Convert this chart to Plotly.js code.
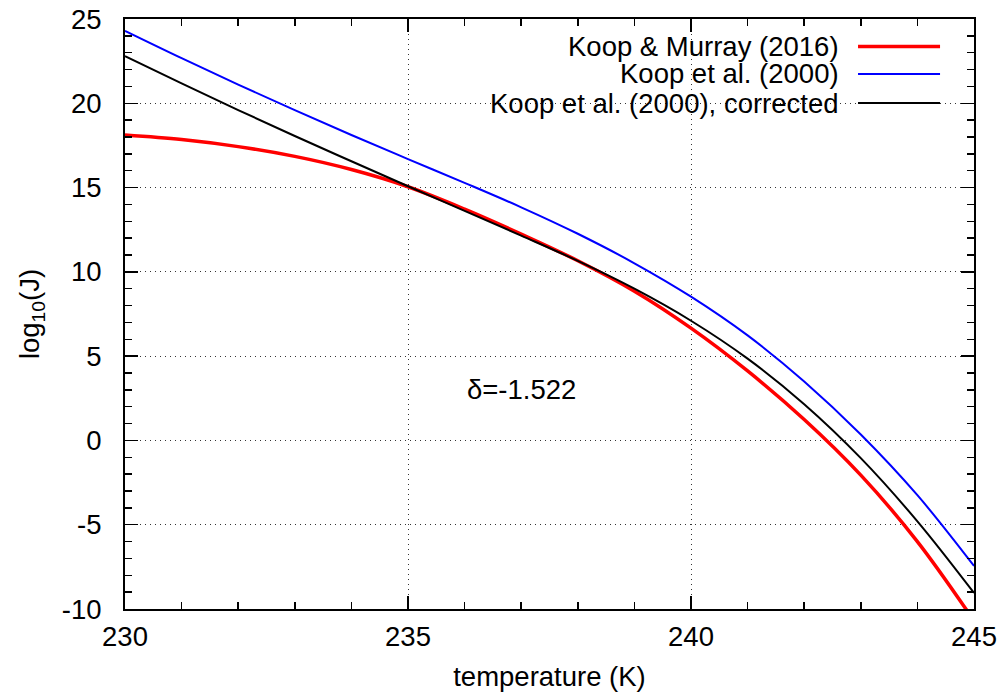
<!DOCTYPE html>
<html><head><meta charset="utf-8">
<script src="https://cdn.plot.ly/plotly-3.0.1.min.js"></script>
<style>html,body{margin:0;padding:0;background:#fff}</style>
</head><body>
<div id="chart" style="width:1005px;height:696px"></div>
<script>
// Data
const temperature = [230,231,232,233,234,235,236,237,238,239,240,241,242,243,244,245];
const koopMurray2016 = [18.12,17.85,17.43,16.85,16.07,15.05,13.72,12.24,10.66,8.85,6.66,4.12,1.24,-2.06,-6.0,-10.7];
const koop2000 = [24.3,22.68,21.11,19.59,18.12,16.69,15.28,13.83,12.26,10.51,8.53,6.23,3.5,0.35,-3.25,-7.45];
const koop2000Corrected = [22.8,21.18,19.6,18.06,16.56,15.08,13.62,12.15,10.65,9.0,7.1,4.85,2.15,-1.05,-4.8,-9.05];
const seriesNames = ["Koop & Murray (2016)","Koop et al. (2000)","Koop et al. (2000), corrected"];
const seriesColors = ["#ff0000","#0000ff","#000000"];
const seriesWidths = [3.5,2,2];
const seriesValues = [koopMurray2016, koop2000, koop2000Corrected];
const xTickVals = [230,235,240,245];
const xTickText = ["230","235","240","245"];
const yTickVals = [-10,-5,0,5,10,15,20,25];
const yTickText = ["-10","-5","0","5","10","15","20","25"];
const labelText = "δ=-1.522";

const FONT = "Liberation Sans, Arial, Helvetica, sans-serif";
const FS = 27.5;

const traces = seriesValues.map((vals,i)=>({
  x: temperature, y: vals, type:'scatter', mode:'lines',
  name: seriesNames[i], showlegend:false,
  line:{color:seriesColors[i], width:seriesWidths[i], shape:'spline', smoothing:1},
  hoverinfo:'skip'
}));

// manual legend (text right-aligned, sample line on the right)
const legendRowsY = [0.9534, 0.9068, 0.8576];
const annotations = seriesNames.map((n,i)=>({
  xref:'paper', yref:'paper', x:0.8433, y:legendRowsY[i],
  xanchor:'right', yanchor:'middle', text:n, showarrow:false,
  font:{family:FONT,size:FS,color:'#000'}
}));
annotations.push({xref:'x', yref:'y', x:236, y:3, xanchor:'left', yanchor:'middle',
  text:labelText, showarrow:false, font:{family:FONT,size:FS,color:'#000'}});

const shapes = [
  {type:'rect', xref:'paper', yref:'paper', x0:0.2615, x1:0.975, y0:0.8288, y1:1.0,
   fillcolor:'#ffffff', line:{width:0}, layer:'between'}
];
seriesNames.forEach((n,i)=>{
  shapes.push({type:'line', xref:'paper', yref:'paper', x0:0.8634, x1:0.9600,
    y0:legendRowsY[i], y1:legendRowsY[i], line:{color:seriesColors[i], width:seriesWidths[i]}});
});

const axisCommon = {
  showline:true, linecolor:'#000', linewidth:2, mirror:'allticks',
  ticks:'inside', ticklen:13, tickwidth:1.5, tickcolor:'#000',
  showgrid:true, gridcolor:'#333', gridwidth:1, griddash:'1px,4px',
  zeroline:false, tickfont:{family:FONT,size:FS,color:'#000'},
  automargin:false
};

const layout = {
  width:1005, height:696,
  margin:{l:125, r:31, t:19, b:87},
  paper_bgcolor:'#fff', plot_bgcolor:'#fff',
  showlegend:false,
  font:{family:FONT,size:FS,color:'#000'},
  xaxis: Object.assign({}, axisCommon, {
    range:[230,245], tickmode:'array', tickvals:xTickVals, ticktext:xTickText,
    ticklabelstandoff:2,
    minor:{dtick:1, ticks:'inside', ticklen:7, tickwidth:1.5, tickcolor:'#000', showgrid:false},
    title:{text:'temperature (K)', font:{family:FONT,size:FS,color:'#000'}, standoff:16}
  }),
  yaxis: Object.assign({}, axisCommon, {
    range:[-10,25], tickmode:'array', tickvals:yTickVals, ticktext:yTickText,
    ticklabelstandoff:16,
    minor:{dtick:1, ticks:'inside', ticklen:7, tickwidth:1.5, tickcolor:'#000', showgrid:false},
    title:{text:'log<sub>10</sub>(J)', font:{family:FONT,size:FS,color:'#000'}, standoff:14}
  }),
  annotations: annotations,
  shapes: shapes
};

Plotly.newPlot('chart', traces, layout, {displayModeBar:false, staticPlot:true});
</script>
</body></html>
